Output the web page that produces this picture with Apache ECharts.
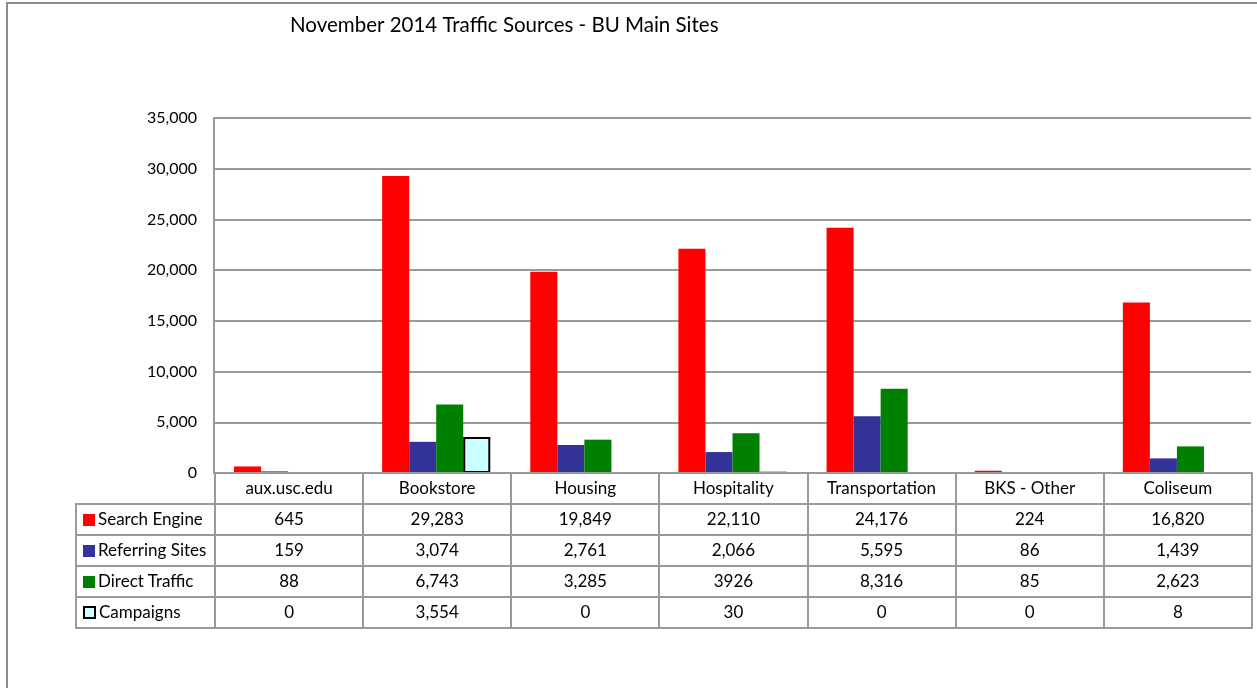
<!DOCTYPE html>
<html>
<head>
<meta charset="utf-8">
<script src="https://cdn.jsdelivr.net/npm/echarts@6/dist/echarts.min.js"></script>
<style>
  html, body { margin: 0; padding: 0; background: #fff; overflow: hidden; }
  body { width: 1257px; height: 688px; position: relative; font-family: Lato, sans-serif; }
  #frame { position: absolute; left: 6px; top: 2px; width: 1400px; height: 900px; border: 2px solid #8c8c8c; }
  #main { position: absolute; left: 0; top: 0; width: 1257px; height: 688px; }
  #tbl { position: absolute; left: 75px; top: 472px; border-collapse: collapse; table-layout: fixed; font-size: 17px; color: #000; }
  #tbl td { border: 2px solid #9a9a9a; text-align: center; padding: 0 0 2px 0; height: 27px; white-space: nowrap; }
  #tbl td.name { text-align: left; padding-left: 6px; }
  #tbl td.blank { border-top: none; border-left: none; }
  .key { display: inline-block; width: 12px; height: 12px; margin-right: 3px; vertical-align: -1px; box-sizing: border-box; }
</style>
</head>
<body>
<div id="frame"></div>
<div id="main"></div>
<table id="tbl"></table>
<script>
// data
const categories = ['aux.usc.edu', 'Bookstore', 'Housing', 'Hospitality', 'Transportation', 'BKS - Other', 'Coliseum'];
const searchEngine = [645, 29283, 19849, 22110, 24176, 224, 16820];
const referringSites = [159, 3074, 2761, 2066, 5595, 86, 1439];
const directTraffic = [88, 6743, 3285, 3926, 8316, 85, 2623];
const campaigns = [0, 3554, 0, 30, 0, 0, 8];
const yTicks = [0, 5000, 10000, 15000, 20000, 25000, 30000, 35000];
// the source table prints this one cell without a thousands separator
const plainCells = { 'Direct Traffic': [3] };

const series = [
  { name: 'Search Engine', data: searchEngine, color: '#FF0000', border: null },
  { name: 'Referring Sites', data: referringSites, color: '#333399', border: null },
  { name: 'Direct Traffic', data: directTraffic, color: '#008000', border: null },
  { name: 'Campaigns', data: campaigns, color: '#CCFFFF', border: '#000000' }
];

var chartDom = document.getElementById('main');
var myChart = echarts.init(chartDom);

var option = {
  animation: false,
  textStyle: { fontFamily: 'Lato' },
  title: {
    text: 'November 2014 Traffic Sources - BU Main Sites',
    left: 285,
    top: 10,
    textStyle: { fontSize: 20.5, fontWeight: 'normal', color: '#000', fontFamily: 'Lato' }
  },
  grid: { left: 214, right: 6, top: 118, bottom: 215, containLabel: false },
  xAxis: {
    type: 'category',
    data: categories,
    axisLine: { show: true, lineStyle: { color: '#9a9a9a', width: 2 } },
    axisTick: { show: false },
    axisLabel: { show: false }
  },
  yAxis: {
    type: 'value',
    min: yTicks[0],
    max: yTicks[yTicks.length - 1],
    interval: yTicks[1] - yTicks[0],
    axisLine: { show: true, lineStyle: { color: '#9a9a9a', width: 2 } },
    axisTick: { show: false },
    splitLine: { lineStyle: { color: '#9a9a9a', width: 2 } },
    axisLabel: {
      margin: 17,
      fontSize: 16,
      color: '#000',
      fontFamily: 'Lato',
      formatter: v => v.toLocaleString('en-US')
    }
  },
  series: series.map(s => ({
    name: s.name,
    type: 'bar',
    barGap: '0%',
    barCategoryGap: '27%',
    // zero values are not drawn in the source chart
    data: s.data.map(v => (v === 0 ? null : v)),
    itemStyle: s.border
      ? { color: s.color, borderColor: s.border, borderWidth: 2 }
      : { color: s.color }
  }))
};

option && myChart.setOption(option);

// data table under the plot
const tbl = document.getElementById('tbl');
let html = '<colgroup><col style="width:139px">';
categories.forEach(() => { html += '<col style="width:148.14px">'; });
html += '</colgroup><tr><td class="blank"></td>';
categories.forEach(c => { html += '<td>' + c + '</td>'; });
html += '</tr>';
series.forEach(s => {
  const keyStyle = s.border
    ? 'background:' + s.color + ';border:2px solid ' + s.border + ';width:13px;height:13px'
    : 'background:' + s.color;
  html += '<tr><td class="name"><span class="key" style="' + keyStyle + '"></span>' + s.name + '</td>';
  s.data.forEach((v, i) => {
    const plain = (plainCells[s.name] || []).includes(i);
    html += '<td>' + (plain ? String(v) : v.toLocaleString('en-US')) + '</td>';
  });
  html += '</tr>';
});
tbl.innerHTML = html;
</script>
</body>
</html>
